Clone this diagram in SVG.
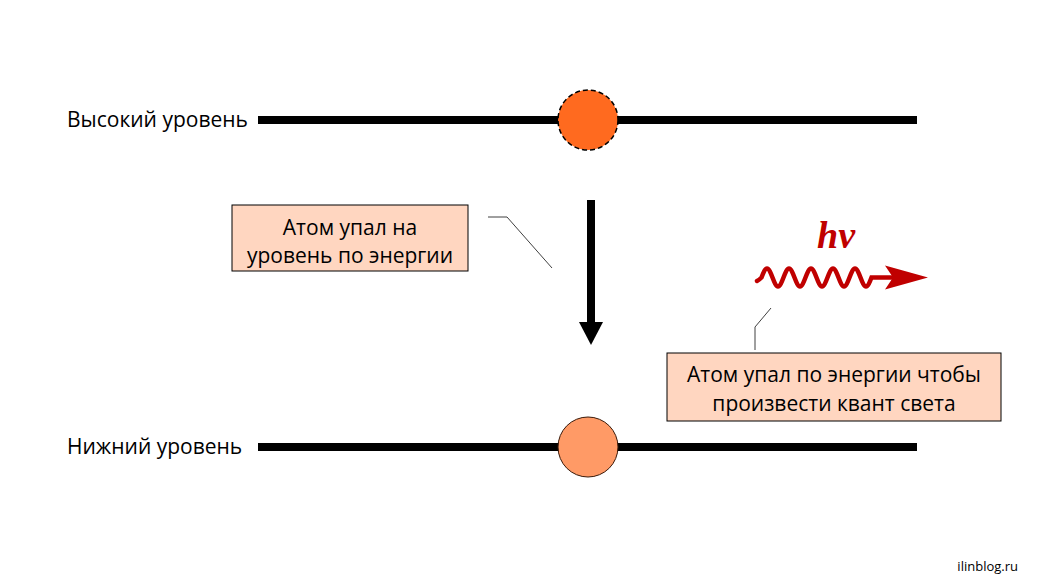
<svg xmlns="http://www.w3.org/2000/svg" width="1055" height="579" viewBox="0 0 1055 579">
<style>
.lbl{font-family:"Open Sans","Noto Sans",sans-serif;font-size:21px;fill:#000}
.box{fill:#FFD6C0;stroke:#000;stroke-width:1}
.lvl{stroke:#000;stroke-width:8}
.call{fill:none;stroke:#404040;stroke-width:1}
</style>
<rect width="1055" height="579" fill="#fff"/>
<g id="level-high">
<line class="lvl" x1="258" y1="120" x2="917" y2="120"/>
<text class="lbl" x="67" y="127">Высокий уровень</text>
</g>
<g id="level-low">
<line class="lvl" x1="258" y1="447" x2="917" y2="447"/>
<text class="lbl" x="67" y="454">Нижний уровень</text>
</g>
<g id="atom-high">
<circle cx="588" cy="120" r="30" fill="#FF6A1F" stroke="#000" stroke-width="1.5" stroke-dasharray="5,3"/>
</g>
<g id="atom-low">
<circle cx="588" cy="447" r="30" fill="#FF9A66" stroke="#3a1a0a" stroke-width="1"/>
</g>
<g id="connectors">
<rect x="587" y="200" width="8" height="124" fill="#000"/>
<polygon points="579,322 603,322 591,345" fill="#000"/>
<polyline class="call" points="488,217 507,217 552,268"/>
<polyline class="call" points="755,350 755,327 771,308"/>
</g>
<g id="photon">
<path d="M757,281 Q759,280 761.5,277.5 c1.794,-4.61 3.509,-9 5.5,-9 s3.706,4.39 5.5,9 s3.509,9 5.5,9 s3.706,-4.39 5.5,-9 s3.509,-9 5.5,-9 s3.706,4.39 5.5,9 s3.509,9 5.5,9 s3.706,-4.39 5.5,-9 s3.509,-9 5.5,-9 s3.706,4.39 5.5,9 s3.509,9 5.5,9 s3.706,-4.39 5.5,-9 s3.509,-9 5.5,-9 s3.706,4.39 5.5,9 s3.509,9 5.5,9 s3.706,-4.39 5.5,-9 s3.509,-9 5.5,-9 s3.706,4.39 5.5,9 s3.509,9 5.5,9 s3.706,-4.39 5.5,-9 L892,277.5" fill="none" stroke="#C00000" stroke-width="4.5" stroke-linecap="round"/>
<polygon points="885,265.5 928,277.5 885,289.5 893,277.5" fill="#C00000"/>
<text x="836" y="248" text-anchor="middle" font-family="'Liberation Serif',serif" font-size="38" font-weight="bold" font-style="italic" fill="#C00000">hν</text>
</g>
<g id="note-1">
<rect class="box" x="232" y="205" width="236" height="66"/>
<text class="lbl" x="350" y="235" text-anchor="middle">Атом упал на</text>
<text class="lbl" x="350" y="263" text-anchor="middle">уровень по энергии</text>
</g>
<g id="note-2">
<rect class="box" x="667" y="353" width="334" height="68"/>
<text class="lbl" x="834" y="382" text-anchor="middle">Атом упал по энергии чтобы</text>
<text class="lbl" x="834" y="411" text-anchor="middle">произвести квант света</text>
</g>
<text x="1018" y="571" text-anchor="end" font-family="'Open Sans',sans-serif" font-size="13" fill="#000">ilinblog.ru</text>
</svg>
